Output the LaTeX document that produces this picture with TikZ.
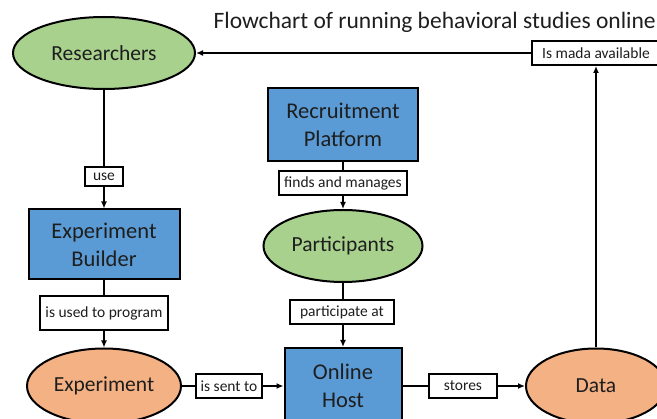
\documentclass[tikz,border=0pt]{standalone}
\usepackage{fontspec}
\setmainfont{Carlito}
\usetikzlibrary{shapes.geometric,arrows.meta}

\definecolor{leafgreen}{HTML}{A9D18E}
\definecolor{boxblue}{HTML}{5B9BD5}
\definecolor{peach}{HTML}{F4B183}
\definecolor{ink}{HTML}{1E1E1E}

\tikzset{
  actor/.style={ellipse, draw, line width=2pt, fill=leafgreen, text=ink,
    minimum width=182pt, minimum height=72pt, inner sep=0pt,
    font=\fontsize{21.5}{28}\selectfont},
  product/.style={actor, fill=peach, minimum width=154pt, minimum height=75pt},
  tool/.style={rectangle, draw, line width=2pt, fill=boxblue, text=ink,
    align=center, minimum width=151pt, minimum height=70pt, inner sep=0pt,
    font=\fontsize{22.5}{28}\selectfont},
  lbl/.style={rectangle, draw, line width=2pt, fill=white, text=ink,
    inner xsep=5pt, inner ysep=0pt, minimum height=24pt,
    font=\fontsize{15.5}{18}\selectfont},
  flow/.style={line width=2pt}
}

\begin{document}
\begin{tikzpicture}[x=1pt, y=-1pt, >={Latex[length=7pt,width=6pt]}]
    \useasboundingbox (0,0) rectangle (657,419);
    \clip (0,0) rectangle (657,419);

    % Title
    \node[anchor=east, text=ink, font=\fontsize{23.5}{28}\selectfont, inner sep=0pt] (title) at (656,22) {Flowchart of running behavioral studies online};

    % Actors and tools
    \node[actor] (res) at (104,53) {Researchers};
    \node[tool] (builder) at (104,244.5) {Experiment\\Builder};
    \node[tool, minimum width=150pt, minimum height=73pt] (recruit) at (343,124.5) {Recruitment\\Platform};
    \node[actor, minimum width=159pt] (part) at (343,246) {Participants};
    \node[tool, minimum width=117pt, minimum height=76pt] (host) at (343,386) {Online\\Host};

    % Products
    \node[product] (exp) at (104,386) {Experiment};
    \node[product, minimum width=140pt] (data) at (596,386) {Data};

    % Edge labels
    \node[lbl, inner xsep=8pt, minimum height=19pt] (use) at (104,176.5) {use};
    \node[lbl, minimum height=34pt] (program) at (104,313) {is used to program};
    \node[lbl] (sent) at (229,386) {is sent to};
    \node[lbl] (finds) at (343,183) {finds and manages};
    \node[lbl, inner xsep=10pt] (partat) at (342,312) {participate at};
    \node[lbl, minimum width=68pt] (stores) at (463,386) {stores};
    \node[lbl, inner xsep=10pt] (avail) at (596,53) {Is mada available};

    % Connectors
    \draw[flow] (res) -- (use);
    \draw[flow, ->] (use) -- (builder);
    \draw[flow] (builder) -- (program);
    \draw[flow, ->] (program) -- (exp);
    \draw[flow] (exp) -- (sent);
    \draw[flow, ->] (sent) -- (host);
    \draw[flow] (recruit) -- (finds);
    \draw[flow, ->] (finds) -- (part);
    \draw[flow] (part) -- (part |- partat.north);
    \draw[flow, ->] (part |- partat.south) -- (host);
    \draw[flow] (host) -- (stores);
    \draw[flow, ->] (stores) -- (data);
    \draw[flow, ->] (data) -- (avail);
    \draw[flow, ->] (avail) -- (res);
\end{tikzpicture}
\end{document}
